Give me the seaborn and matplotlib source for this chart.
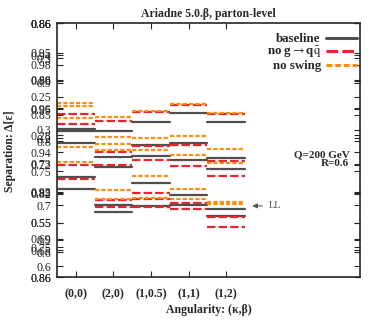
import numpy as np
import pandas as pd
import matplotlib
matplotlib.use("Agg")
import matplotlib.pyplot as plt
import seaborn as sns

# ---------------- data ----------------
categories = ["(0,0)", "(2,0)", "(1,0.5)", "(1,1)", "(1,2)"]
series_names = ["baseline", r"no g$\rightarrow$q$\bar{\mathrm{q}}$", "no swing"]

# separation levels per category (several overlaid panels, common vertical scale 0..1)
baseline = [
    [0.583, 0.575, 0.528, 0.392, 0.346],
    [0.574, 0.474, 0.432, 0.282, 0.256],
    [0.610, 0.518, 0.478, 0.372, 0.280],
    [0.644, 0.526, 0.462, 0.324, 0.282],
    [0.611, 0.469, 0.425, 0.267, 0.240],
]
no_gqq = [
    [0.642, 0.602, 0.441, 0.386],
    [0.614, 0.491, 0.441, 0.302, 0.277],
    [0.650, 0.514, 0.461, 0.331, 0.307, 0.276],
    [0.679, 0.520, 0.437, 0.293, 0.269],
    [0.642, 0.457, 0.398, 0.235, 0.196],
]
no_swing = [
    [0.685, 0.675, 0.626, 0.512, 0.453],
    [0.631, 0.550, 0.524, 0.499, 0.344, 0.309],
    [0.654, 0.547, 0.500, 0.398, 0.311],
    [0.680, 0.555, 0.480, 0.346, 0.307],
    [0.647, 0.505, 0.450, 0.296, 0.286],
]

# overlaid y tick labels of the stacked panels
ytick_values = [1.0, 1.0, 1.0, 0.882, 0.874, 0.862, 0.835, 0.776, 0.772, 0.764,
                0.709, 0.665, 0.661, 0.638, 0.579, 0.559, 0.547, 0.535, 0.492,
                0.445, 0.441, 0.417, 0.335, 0.331, 0.327, 0.283, 0.213, 0.213,
                0.150, 0.146, 0.118, 0.106, 0.098, 0.043, 0.0, 0.0]
ytick_labels = ["0.88", "0.85", "0.86", "0.95", "0.94", "0.3", "0.98", "0.88", "0.89", "0.9",
                "0.25", "0.96", "0.95", "0.85", "0.3", "0.28", "0.2", "0.8", "0.94",
                "0.73", "0.72", "0.75", "0.92", "0.85", "0.82", "0.7", "0.65", "0.55",
                "0.69", "0.9", "0.75", "0.65", "0.6", "0.6", "0.88", "0.86"]

# ---------------- build long table of horizontal segments ----------------
rows = []
seg = 0
for name, table in zip(series_names, [baseline, no_gqq, no_swing]):
    for ci, vals in enumerate(table):
        for v in vals:
            rows.append(dict(series=name, seg=seg, x=ci - 0.5, y=v))
            rows.append(dict(series=name, seg=seg, x=ci + 0.5, y=v))
            seg += 1
df = pd.DataFrame(rows)

sns.set_style("ticks")
plt.rcParams["font.family"] = ["Liberation Serif", "DejaVu Serif"]
plt.rcParams["mathtext.fontset"] = "stix"

W, H = 374, 324
fig = plt.figure(figsize=(W / 100, H / 100), dpi=100)
L, R, T, B = 57, 360, 23, 277
ax = fig.add_axes([L / W, 1 - B / H, (R - L) / W, (B - T) / H])

palette = {series_names[0]: "#4f4f4f", series_names[1]: "#e8252d", series_names[2]: "#ff8c0a"}
dashes = {series_names[0]: "", series_names[1]: (3.8, 1.4), series_names[2]: (1.9, 0.95)}
sns.lineplot(data=df, x="x", y="y", hue="series", style="series", units="seg",
             estimator=None, palette=palette, dashes=dashes, linewidth=1.6,
             legend=False, ax=ax, sort=False)

ax.set_xlim(-0.5, 7.56)
ax.set_ylim(0, 1)
ax.set_xticks(range(len(categories)))
ax.set_xticklabels(categories, fontsize=8.5, fontweight="bold")
ax.set_yticks(ytick_values)
ax.set_yticklabels(ytick_labels, fontsize=8.5, color="#222222")
ax.tick_params(axis="both", direction="in", length=4, width=0.8, top=True, right=True)
ax.tick_params(axis="x", pad=8)
ax.tick_params(axis="y", pad=4)
for s in ax.spines.values():
    s.set_linewidth(1.2)
ax.set_xlabel("Angularity: (κ,β)", fontsize=8.5, fontweight="bold", labelpad=3)
ax.set_ylabel("")
fig.text(10 / W, 1 - 151 / H, "Separation: Δ[ε]", rotation=90, fontsize=8.5,
         fontweight="bold", ha="center", va="center")

ax.set_title("Ariadne 5.0.β, parton-level", fontsize=8.5, fontweight="bold", pad=4)

# legend
from matplotlib.lines import Line2D
handles = [Line2D([], [], color=palette[series_names[0]], lw=2.2),
           Line2D([], [], color=palette[series_names[1]], lw=2.2, dashes=dashes[series_names[1]]),
           Line2D([], [], color=palette[series_names[2]], lw=2.2, dashes=dashes[series_names[2]])]
leg = ax.legend(handles, series_names, loc="upper right", bbox_to_anchor=(357 / W, 1 - 33 / H),
                bbox_transform=fig.transFigure, frameon=False, markerfirst=False,
                fontsize=9.3, handlelength=2.4, handletextpad=0.4, labelspacing=0.0,
                borderaxespad=0, borderpad=0)
for t in leg.get_texts():
    t.set_fontweight("bold")

ax.text(0.965, 0.48, "Q=200 GeV", transform=ax.transAxes, ha="right", va="center",
        fontsize=8, fontweight="bold")
ax.text(0.965, 0.445, "R=0.6", transform=ax.transAxes, ha="right", va="center",
        fontsize=8, fontweight="bold")

ax.annotate("LL", xy=(4.62, 0.28), xytext=(5.12, 0.28), fontsize=7.5, color="#555555",
            va="center", ha="left",
            arrowprops=dict(arrowstyle="-|>", color="#555555", lw=0.8, mutation_scale=7))

fig.savefig("out.png", dpi=100)
